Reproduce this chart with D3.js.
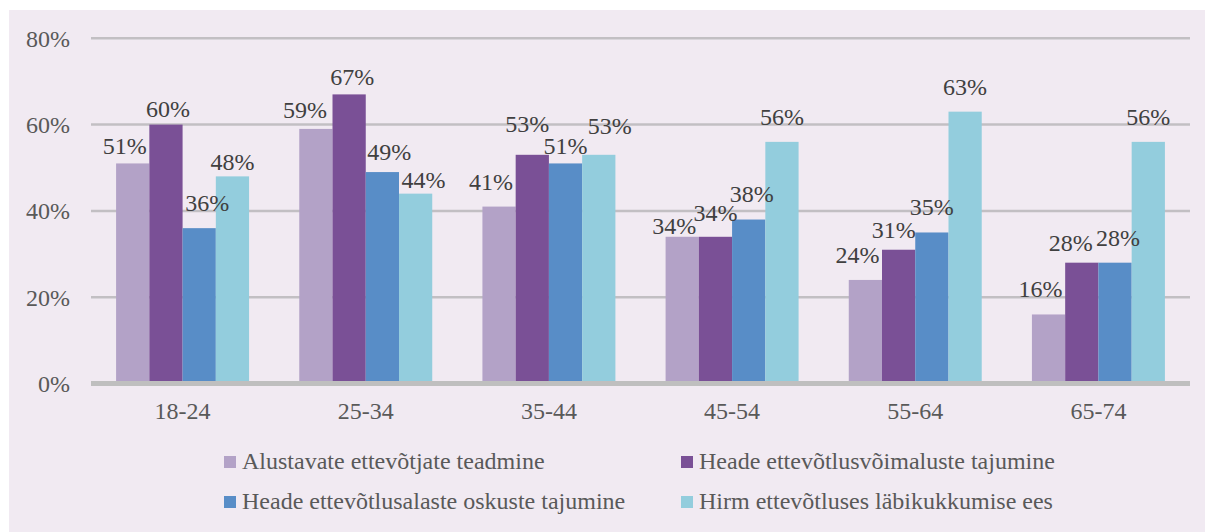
<!DOCTYPE html>
<html>
<head>
<meta charset="utf-8">
<script src="https://cdn.jsdelivr.net/npm/d3@7"></script>
<style>
  html, body { margin: 0; padding: 0; background: #ffffff; }
  svg { display: block; }
  svg text { font-family: "Liberation Serif", "Times New Roman", Times, serif; }
</style>
</head>
<body>
<svg id="chart" width="1205" height="532"></svg>
<script>
// Age groups on the category axis
const ageGroups = ["18-24", "25-34", "35-44", "45-54", "55-64", "65-74"];

// Series names (legend order)
const seriesNames = [
  "Alustavate ettevõtjate teadmine",
  "Heade ettevõtlusvõimaluste tajumine",
  "Heade ettevõtlusalaste oskuste tajumine",
  "Hirm ettevõtluses läbikukkumise ees"
];

// Shares per age group, in percent
const knowEntrepreneurs   = [51, 59, 41, 34, 24, 16];
const seeOpportunities    = [60, 67, 53, 34, 31, 28];
const perceiveSkills      = [36, 49, 51, 38, 35, 28];
const fearOfFailure       = [48, 44, 53, 56, 63, 56];

// Value axis ticks
const yTicks = [0, 20, 40, 60, 80];

const seriesValues = [knowEntrepreneurs, seeOpportunities, perceiveSkills, fearOfFailure];
const seriesColors = ["#b3a2c7", "#7a5096", "#588dc7", "#93cddd"];

// Hand-placed label nudges [dx, dy] per series and age group
const labelNudge = [
  [[-8, 8], [-11, 6], [-8, 0], [-8, 14], [-8, 0], [-8, 0]],
  [[2, 9], [3, 8], [-5, -6], [0, 1], [-5, 5], [-11, 5]],
  [[8, 0], [7, 5], [0, 8], [3, -1], [0, 0], [3, 0]],
  [[0, 11], [8, 11], [11, -4], [0, 0], [0, 0], [0, 0]]
];

const FONT = "'Liberation Serif', 'Times New Roman', Times, serif";
const FONT_SIZE = 24;

const svg = d3.select("#chart");

// Panel background
svg.append("rect")
  .attr("x", 9).attr("y", 10)
  .attr("width", 1196).attr("height", 522)
  .attr("fill", "#f1eaf2");

const plotLeft = 91, plotRight = 1190;

const x = d3.scaleBand()
  .domain(ageGroups)
  .range([plotLeft, plotRight])
  .paddingInner(0.274)
  .paddingOuter(0.137);

const xSeries = d3.scaleBand()
  .domain(d3.range(seriesNames.length))
  .range([0, x.bandwidth()])
  .padding(0);

const y = d3.scaleLinear()
  .domain([0, 80])
  .range([383.5, 38.3]);

// Horizontal gridlines
svg.append("g")
  .selectAll("line")
  .data(yTicks.filter(t => t > 0))
  .join("line")
  .attr("x1", plotLeft).attr("x2", plotRight)
  .attr("y1", d => y(d)).attr("y2", d => y(d))
  .attr("stroke", "#c2bfc3")
  .attr("stroke-width", 2.5);

// Y axis labels
const yAxis = d3.axisLeft(y)
  .tickValues(yTicks)
  .tickFormat(d => d + "%")
  .tickSize(0)
  .tickPadding(0);

const yG = svg.append("g")
  .attr("transform", "translate(70,0)")
  .call(yAxis)
  .attr("font-family", FONT)
  .attr("font-size", FONT_SIZE);
yG.select(".domain").remove();
yG.selectAll("text")
  .attr("fill", "#595959")
  .attr("dy", "0.33em");

// Bars
const rows = [];
seriesValues.forEach((vals, s) => {
  vals.forEach((v, g) => rows.push({ s, g, v, group: ageGroups[g] }));
});

svg.append("g")
  .selectAll("rect")
  .data(rows)
  .join("rect")
  .attr("x", d => x(d.group) + xSeries(d.s))
  .attr("width", xSeries.bandwidth())
  .attr("y", d => y(d.v))
  .attr("height", d => y(0) - y(d.v))
  .attr("fill", d => seriesColors[d.s]);

// Category axis line
svg.append("line")
  .attr("x1", plotLeft).attr("x2", plotRight)
  .attr("y1", y(0)).attr("y2", y(0))
  .attr("stroke", "#bfbfbf")
  .attr("stroke-width", 5);

// X axis labels
const xAxis = d3.axisBottom(x).tickSize(0).tickPadding(0);
const xG = svg.append("g")
  .attr("transform", `translate(0,${y(0)})`)
  .call(xAxis)
  .attr("font-family", FONT)
  .attr("font-size", FONT_SIZE);
xG.select(".domain").remove();
xG.selectAll("text")
  .attr("fill", "#595959")
  .attr("dy", null)
  .attr("y", 35.5);

// Value labels
svg.append("g")
  .attr("font-family", FONT)
  .attr("font-size", FONT_SIZE)
  .selectAll("text")
  .data(rows)
  .join("text")
  .attr("x", d => x(d.group) + xSeries(d.s) + xSeries.bandwidth() / 2 + labelNudge[d.s][d.g][0])
  .attr("y", d => y(d.v) - 17 + labelNudge[d.s][d.g][1])
  .attr("text-anchor", "middle")
  .attr("fill", "#404040")
  .text(d => d.v + "%");

// Legend
const legendCols = [224, 681];
const legendRows = [469, 509];
const legend = svg.append("g")
  .attr("font-family", FONT)
  .attr("font-size", FONT_SIZE)
  .selectAll("g")
  .data(seriesNames)
  .join("g")
  .attr("transform", (d, i) => `translate(${legendCols[i % 2]},${legendRows[Math.floor(i / 2)]})`);

legend.append("rect")
  .attr("x", 0).attr("y", -13)
  .attr("width", 12).attr("height", 12)
  .attr("fill", (d, i) => seriesColors[i]);

legend.append("text")
  .attr("x", 18).attr("y", 0)
  .attr("fill", "#595959")
  .text(d => d);
</script>
</body>
</html>
